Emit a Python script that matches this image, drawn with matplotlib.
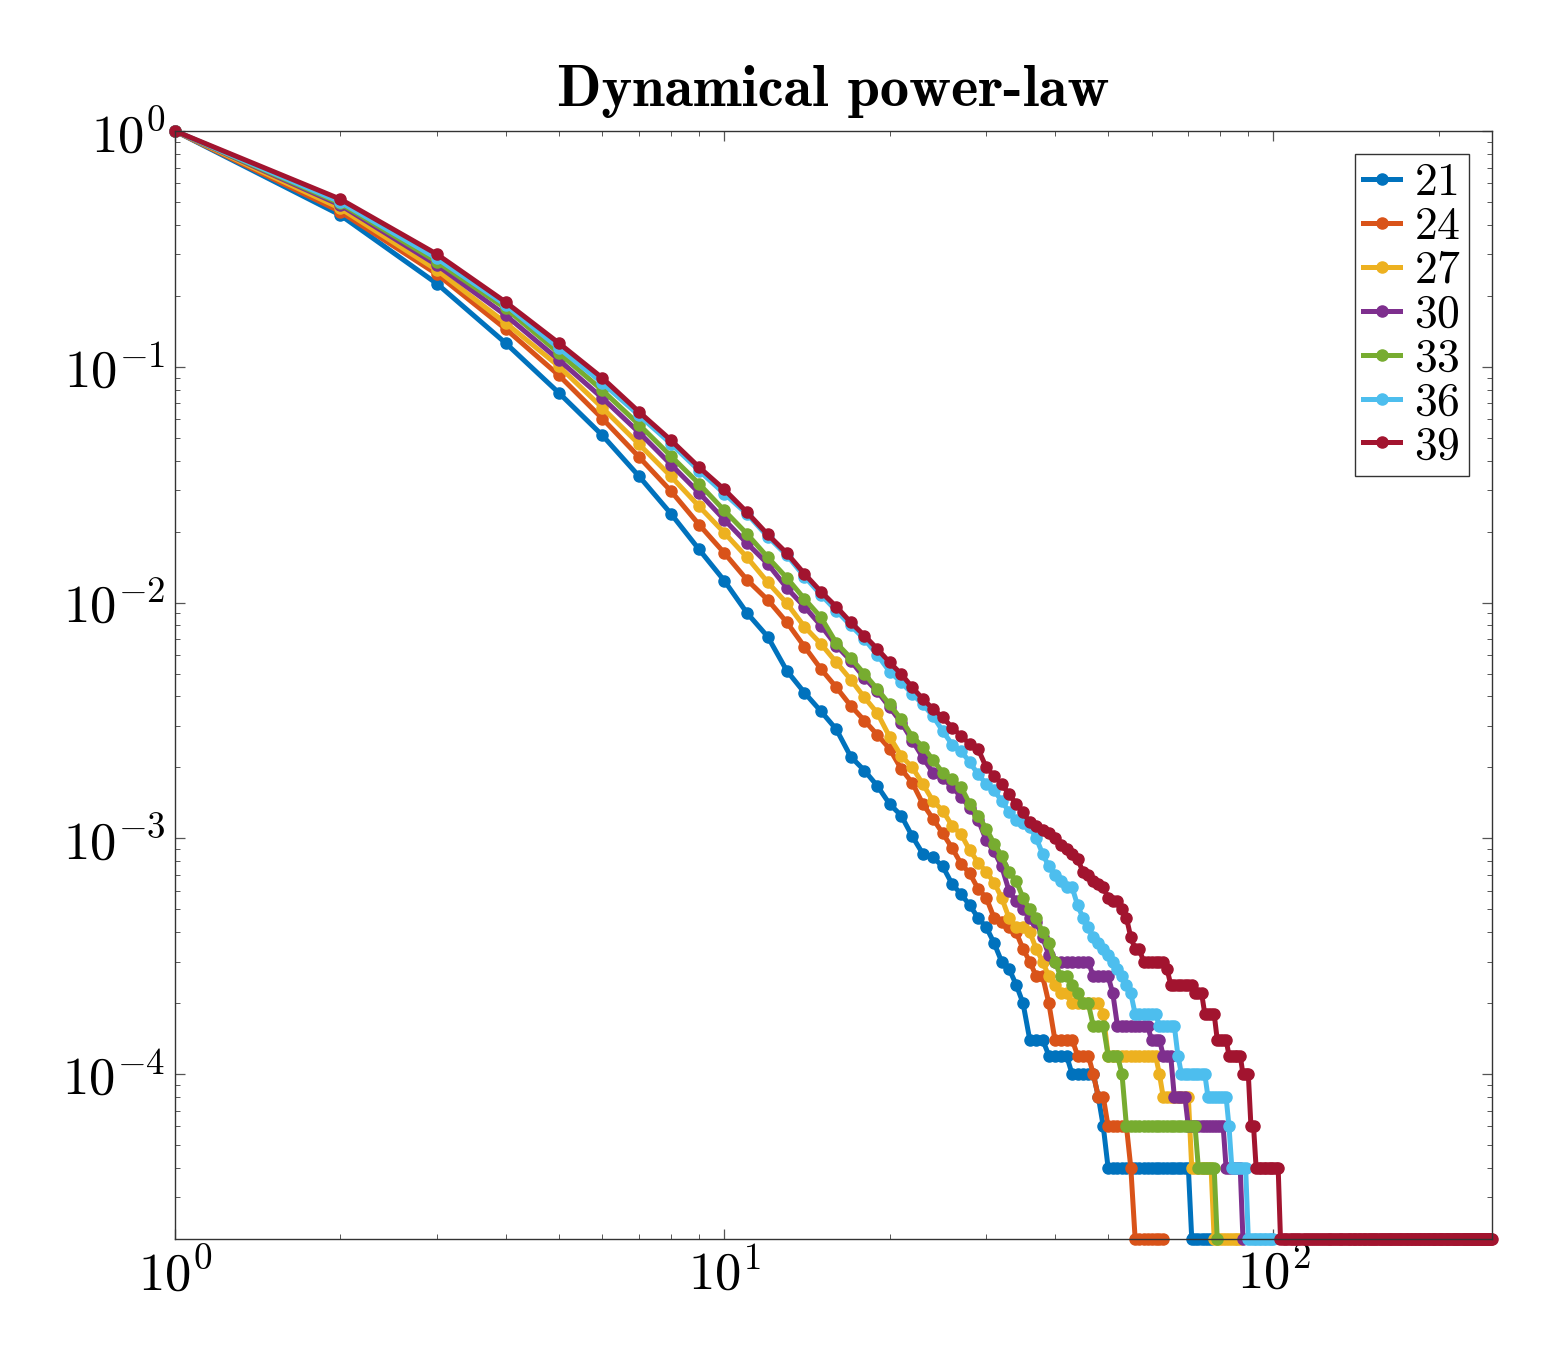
import numpy as np
import matplotlib
matplotlib.use("Agg")
import matplotlib.pyplot as plt
from matplotlib.ticker import LogLocator, FuncFormatter, NullFormatter

plt.rcParams['mathtext.fontset'] = 'cm'
plt.rcParams['font.family'] = ['cmr10', 'DejaVu Serif']
plt.rcParams['axes.formatter.use_mathtext'] = True

title = "Dynamical power-law"
labels = ["21", "24", "27", "30", "33", "36", "39"]
colors = ["#0072BD", "#D95319", "#EDB120", "#7E2F8E", "#77AC30", "#4DBEEE", "#A2142F"]

s21 = ([1.0, 0.44, 0.225, 0.126, 0.0775, 0.0512, 0.0343, 0.0238, 0.0168, 0.0124,
        0.00904, 0.00717, 0.00514, 0.00415, 0.00346, 0.00290, 0.00222, 0.00194, 0.00167, 0.00140,
        0.00125, 0.00102, 8.6e-4, 8.3e-4, 7.6e-4, 6.4e-4, 5.8e-4, 5.2e-4, 4.6e-4, 4.2e-4,
        3.6e-4, 3.0e-4, 2.8e-4, 2.4e-4, 2.0e-4]
       + [1.4e-4] * 3 + [1.2e-4] * 4 + [1.0e-4] * 5 + [8e-5, 6e-5] + [4e-5] * 21 + [2e-5] * 7)

s24 = ([1.0, 0.455, 0.247, 0.1447, 0.092, 0.0603, 0.0414, 0.0297, 0.0214, 0.01625,
        0.01249, 0.01027, 0.00825, 0.0065, 0.00523, 0.00437, 0.00365, 0.00316, 0.00275, 0.0024,
        0.00197, 0.00172, 0.0014, 0.00121, 0.00105, 9.1e-4, 7.8e-4, 7.1e-4, 6.1e-4, 5.6e-4,
        4.6e-4, 4.4e-4, 4.2e-4, 4.0e-4, 3.4e-4, 3.0e-4, 2.6e-4, 2.6e-4, 2.0e-4]
       + [1.4e-4] * 4 + [1.2e-4] * 3 + [1e-4] + [8e-5] * 2 + [6e-5] * 5 + [4e-5] + [2e-5] * 8)

s27 = ([1.0, 0.47, 0.257, 0.1535, 0.1005, 0.067, 0.0469, 0.0343, 0.0256, 0.0198,
        0.01557, 0.0122, 0.00993, 0.0079, 0.00668, 0.00558, 0.00471, 0.00396, 0.0034, 0.0027,
        0.00224, 0.0020, 0.0017, 0.00144, 0.00131, 0.00113, 0.00104, 8.9e-4, 7.9e-4, 7.2e-4,
        6.5e-4, 5.6e-4, 4.6e-4, 4.2e-4, 4.2e-4, 4.0e-4, 3.4e-4, 3.0e-4, 2.6e-4, 2.4e-4,
        2.2e-4, 2.2e-4]
       + [2.0e-4] * 6 + [1.8e-4] + [1.2e-4] * 12 + [1e-4] + [8e-5] * 8 + [4e-5] * 7 + [2e-5] * 10)

s30 = ([1.0, 0.485, 0.27, 0.1655, 0.107, 0.0737, 0.0526, 0.0385, 0.0292, 0.0225,
        0.01786, 0.0146, 0.01154, 0.0096, 0.00799, 0.00657, 0.00567, 0.00479, 0.0042, 0.0036,
        0.0031, 0.0026, 0.0022, 0.0019, 0.0018, 0.00165, 0.0015, 0.00135, 0.0012, 9.8e-4,
        8.8e-4, 7.6e-4, 6.0e-4, 5.4e-4, 5.0e-4, 4.6e-4, 4.4e-4, 3.8e-4, 3.2e-4]
       + [3.0e-4] * 7 + [2.6e-4] * 4 + [2.2e-4] + [1.6e-4] * 8 + [1.4e-4] * 3 + [1.2e-4] * 3
       + [8e-5] * 4 + [6e-5] * 12 + [4e-5] * 6 + [2e-5])

s33 = ([1.0, 0.493, 0.279, 0.177, 0.1144, 0.0795, 0.0568, 0.0418, 0.0319, 0.0246,
        0.01957, 0.01557, 0.01273, 0.01037, 0.00866, 0.00674, 0.00582, 0.00498, 0.0043, 0.0037,
        0.0032, 0.0027, 0.00245, 0.00215, 0.0019, 0.00178, 0.00165, 0.0014, 0.00125, 0.0011,
        9.5e-4, 8.4e-4, 7.2e-4, 6.6e-4, 5.6e-4, 5.0e-4, 4.6e-4, 4.0e-4, 3.6e-4, 3.0e-4,
        2.6e-4, 2.6e-4, 2.4e-4, 2.2e-4, 2.0e-4, 2.0e-4]
       + [1.6e-4] * 3 + [1.2e-4] * 3 + [1e-4] + [6e-5] * 19 + [4e-5] * 6 + [2e-5])

s36 = ([1.0, 0.50, 0.288, 0.183, 0.120, 0.0854, 0.0622, 0.0472, 0.0363, 0.029,
        0.0238, 0.01906, 0.0159, 0.0129, 0.0108, 0.00924, 0.0080, 0.0070, 0.0060, 0.0051,
        0.0046, 0.0041, 0.0037, 0.0033, 0.00285, 0.0025, 0.00235, 0.0021, 0.00187, 0.0017,
        0.0016, 0.00144, 0.0013, 0.0012, 0.00116, 0.00112, 0.0010, 8.6e-4, 7.6e-4, 7.0e-4,
        6.6e-4, 6.2e-4, 6.2e-4, 5.2e-4, 4.6e-4, 4.2e-4, 3.8e-4, 3.6e-4, 3.4e-4, 3.2e-4,
        3.0e-4, 2.8e-4, 2.6e-4, 2.4e-4, 2.2e-4]
       + [1.8e-4] * 6 + [1.6e-4] * 5 + [1.2e-4] + [1e-4] * 8 + [8e-5] * 7 + [6e-5]
       + [4e-5] * 6 + [2e-5] * 11)

s39 = ([1.0, 0.514, 0.30, 0.188, 0.126, 0.0896, 0.0643, 0.0488, 0.0375, 0.0302,
        0.02417, 0.01945, 0.0162, 0.01324, 0.01113, 0.0096, 0.00825, 0.00724, 0.00636, 0.00558,
        0.00498, 0.00437, 0.0039, 0.00354, 0.00326, 0.00295, 0.00272, 0.00251, 0.00239, 0.0020,
        0.00184, 0.0017, 0.00154, 0.0014, 0.00129, 0.00117, 0.00113, 0.00109, 0.00105, 0.0010,
        9.4e-4, 9.0e-4, 8.6e-4, 8.2e-4, 7.2e-4, 7.0e-4, 6.6e-4, 6.4e-4, 6.2e-4, 5.6e-4,
        5.4e-4, 5.4e-4, 5.0e-4, 4.6e-4, 3.8e-4, 3.4e-4, 3.4e-4]
       + [3.0e-4] * 6 + [2.8e-4] + [2.4e-4] * 7 + [2.2e-4] * 3 + [1.8e-4] * 4 + [1.4e-4] * 4
       + [1.2e-4] * 5 + [1e-4] * 3 + [6e-5] * 2 + [4e-5] * 10 + [2e-5] * 148)

series = [s21, s24, s27, s30, s33, s36, s39]

fig = plt.figure(figsize=(15.54, 13.6), dpi=100)
ax = fig.add_axes([175 / 1554, 1 - 1239 / 1360, (1492 - 175) / 1554, (1239 - 131) / 1360])

for vals, lab, col in zip(series, labels, colors):
    x = np.arange(1, len(vals) + 1)
    ax.plot(x, vals, color=col, lw=3.6, marker='o', ms=8, mec=col, mfc=col,
            label='$' + lab + '$', clip_on=False)

ax.set_xscale('log')
ax.set_yscale('log')
ax.set_xlim(1, 250)
ax.set_ylim(2e-5, 1)

ax.xaxis.set_major_locator(LogLocator(base=10, numticks=10))
ax.yaxis.set_major_locator(LogLocator(base=10, numticks=10))
ax.xaxis.set_minor_locator(LogLocator(base=10, subs=np.arange(2, 10), numticks=20))
ax.yaxis.set_minor_locator(LogLocator(base=10, subs=np.arange(2, 10), numticks=20))
fmt = FuncFormatter(lambda v, p: r'$10^{%d}$' % int(round(np.log10(v))))
ax.xaxis.set_major_formatter(fmt)
ax.yaxis.set_major_formatter(fmt)
ax.xaxis.set_minor_formatter(NullFormatter())
ax.yaxis.set_minor_formatter(NullFormatter())

ax.tick_params(which='both', direction='in', top=True, right=True, colors='#555555',
               labelcolor='black')
ax.tick_params(which='major', length=7, width=0.9, labelsize=38, pad=7)
ax.tick_params(which='minor', length=3.5, width=0.7)
for sp in ax.spines.values():
    sp.set_color('#333333')
    sp.set_linewidth(1.0)

ax.set_title(title, fontsize=42, fontfamily='cmb10', pad=18)

leg = ax.legend(loc='upper right', fontsize=33, labelspacing=0.05, handlelength=0.8,
                handletextpad=0.3, borderpad=0.18, borderaxespad=0.5, fancybox=False,
                framealpha=1, edgecolor='#333333')
leg.get_frame().set_linewidth(1.0)

fig.savefig('out.png', dpi=100)
